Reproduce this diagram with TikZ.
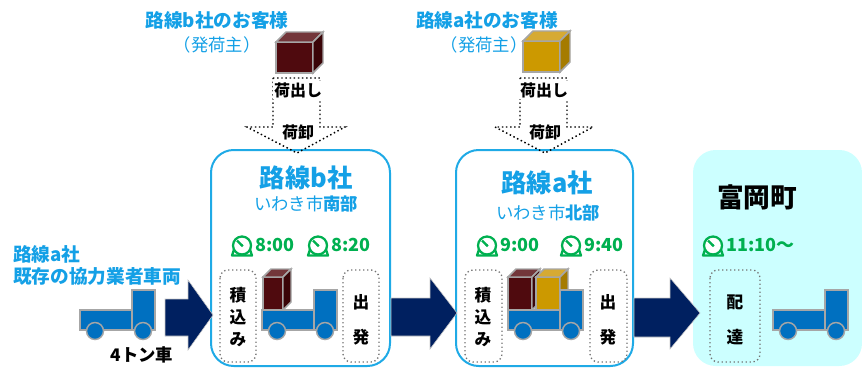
\documentclass[tikz,border=0pt]{standalone}
\usepackage{fontspec}
\setmainfont{Noto Sans CJK JP}
\definecolor{skyblue}{HTML}{14A0E6}
\definecolor{framecol}{HTML}{1FAAE6}
\definecolor{navy}{HTML}{002060}
\definecolor{clockgreen}{HTML}{00B050}
\definecolor{truckblue}{HTML}{0070C0}
\definecolor{rimgray}{HTML}{A6A6A6}
\definecolor{townbg}{HTML}{CCFFFF}
\definecolor{maroonF}{HTML}{4F0A0E}
\definecolor{maroonT}{HTML}{73363A}
\definecolor{maroonS}{HTML}{3A0508}
\definecolor{goldF}{HTML}{CC9900}
\definecolor{goldT}{HTML}{D6AA33}
\definecolor{goldS}{HTML}{A57B00}

% cube: x, y (front top-left), width, height, depth, front, top, side
\newcommand\crate[8]{%
  \draw[cratepen, fill=#6] (#1,#2) rectangle ++(#3,#4);
  \draw[cratepen, fill=#7] (#1,#2) -- ++(#5,-#5) -- ++(#3,0) -- ++(-#5,#5) -- cycle;
  \draw[cratepen, fill=#8] (#1+#3,#2) -- ++(#5,-#5) -- ++(0,#4) -- ++(-#5,#5) -- cycle;
}
% truck: x (left), y (cab top)
\newcommand\lorry[2]{%
  \begin{scope}[shift={(#1,#2)}]
    \draw[truckpen] (0,20) rectangle (52,40);
    \draw[truckpen] (52,0) rectangle (75,40);
    \draw[truckpen] (15,41) circle (8.5);
    \draw[truckpen] (63,41) circle (8.5);
  \end{scope}
}
% alarm-clock icon centred at x, y
\newcommand\clockicon[2]{%
  \begin{scope}[shift={(#1,#2)}]
    \draw[clockpen, line join=round] (-7.5,2) -- (-10,9.5) -- (10,9.5) -- (7.5,2);
    \draw[clockpen, fill=white] (0,-0.5) circle (9);
    \draw[clockpen] (0,-0.5) -- (-5,-5.5);
    \fill[clockgreen] (0,-0.5) circle (1.6);
  \end{scope}
}

\begin{document}
\begin{tikzpicture}[x=0.75pt, y=-0.75pt,
  cratepen/.style={draw=rimgray, line width=1.1pt},
  truckpen/.style={draw=rimgray, line width=1.1pt, fill=truckblue},
  clockpen/.style={draw=clockgreen, line width=1.7pt},
  station/.style={draw=framecol, line width=1.5pt, rounded corners=17pt},
  dotbox/.style={draw=black!55, dotted, line width=1pt, rounded corners=6pt},
  dotarrow/.style={draw=black, dotted, line width=1.1pt},
  navyarrow/.style={fill=navy, draw=rimgray!60, line width=0.4pt},
  bluehead/.style={text=skyblue, font=\bfseries\fontsize{14}{16}\selectfont},
  bluesub/.style={text=skyblue, font=\fontsize{13}{15}\selectfont},
  title/.style={text=skyblue, font=\bfseries\fontsize{19}{20}\selectfont},
  subtitle/.style={text=skyblue, font=\fontsize{13}{15}\selectfont},
  timetext/.style={text=clockgreen, font=\bfseries\fontsize{13.5}{15}\selectfont, anchor=west},
  blacklabel/.style={text=black, font=\bfseries\fontsize{12}{14}\selectfont},
  vlabel/.style={text=black, font=\bfseries\fontsize{12.5}{16.5}\selectfont, align=center},
  inner sep=0pt]
\useasboundingbox (0,0) rectangle (862,367);

% ---- stations and town background ----
\draw[station] (211,150) rectangle (390,366);
\draw[station] (456,150) rectangle (633,366);
\fill[townbg, rounded corners=17pt] (693,150) rectangle (862,366);

% ---- shipper boxes ----
\crate{276}{42}{37}{31}{10}{maroonF}{maroonT}{maroonS}
\crate{523}{41}{37}{31}{10}{goldF}{goldT}{goldS}

\node[bluehead] (custB) at (217,20) {路線b社のお客様};
\node[bluesub] (shipB) at (217,45) {（発荷主）};
\node[bluehead] (custA) at (487,20) {路線a社のお客様};
\node[bluesub] (shipA) at (484,45) {（発荷主）};

% ---- dotted pick-up arrows ----
\draw[dotarrow] (273,78) -- (320,78) -- (320,127) -- (345,127) -- (297,153) -- (247,127) -- (273,127) -- cycle;
\draw[dotarrow] (520,78) -- (567,78) -- (567,127) -- (593,127) -- (545,153) -- (495,127) -- (520,127) -- cycle;
\node[blacklabel, fill=white, inner sep=1pt] (outB) at (298,90) {荷出し};
\node[blacklabel] (dropB) at (298,132) {荷卸};
\node[blacklabel, fill=white, inner sep=1pt] (outA) at (544,90) {荷出し};
\node[blacklabel] (dropA) at (545,132) {荷卸};

% ---- station titles ----
\node[title] (stB) at (306,178) {路線b社};
\node[subtitle] (areaB) at (306,204) {いわき市{\bfseries 南部}};
\node[title] (stA) at (547,183) {路線a社};
\node[subtitle] (areaA) at (548,213) {いわき市{\bfseries 北部}};
\node[text=black, font=\bfseries\fontsize{20}{22}\selectfont] (town) at (757,197) {富岡町};

% ---- times ----
\clockicon{242}{246}
\node[timetext] (tB1) at (255,245) {8:00};
\clockicon{318}{246}
\node[timetext] (tB2) at (331,245) {8:20};
\clockicon{487}{246}
\node[timetext] (tA1) at (500,245) {9:00};
\clockicon{571}{246}
\node[timetext] (tA2) at (584,245) {9:40};
\clockicon{713}{246}
\node[timetext] (tT) at (726,245) {11:10〜};

% ---- dotted step boxes ----
\draw[dotbox] (220,270) rectangle (256,362);
\node[vlabel] (loadB) at (238,317) {積\\込\\み};
\draw[dotbox] (343,270) rectangle (379,362);
\node[vlabel] (leaveB) at (361,320) {出\\[10pt]発};
\draw[dotbox] (465,270) rectangle (502,362);
\node[vlabel] (loadA) at (483,317) {積\\込\\み};
\draw[dotbox] (590,270) rectangle (627,362);
\node[vlabel] (leaveA) at (608,320) {出\\[10pt]発};
\draw[dotbox] (710,270) rectangle (760,362);
\node[vlabel] (deliv) at (735,320) {配\\[10pt]達};

% ---- trucks and loads ----
\lorry{80}{290}
\crate{263}{277}{20}{33}{8}{maroonF}{maroonT}{maroonS}
\lorry{262}{290}
\crate{508}{277}{24}{33}{8}{maroonF}{maroonT}{maroonS}
\crate{536}{277}{24}{33}{8}{goldF}{goldT}{goldS}
\lorry{508}{290}
\lorry{773}{290}

\node[bluehead, anchor=west] (lineA) at (13,254) {路線a社};
\node[bluehead, anchor=west] (partner) at (13,276) {既存の協力業者車両};
\node[blacklabel, font=\bfseries\fontsize{13}{15}\selectfont] (ton) at (142,355) {4トン車};

% ---- flow arrows ----
\draw[navyarrow] (165,299) -- (188,299) -- (188,280) -- (213,315) -- (188,350) -- (188,336) -- (165,336) -- cycle;
\draw[navyarrow] (391,298) -- (430,298) -- (430,278) -- (457,313) -- (430,349) -- (430,336) -- (391,336) -- cycle;
\draw[navyarrow] (634,298) -- (670,298) -- (670,278) -- (700,313) -- (670,349) -- (670,337) -- (634,337) -- cycle;
\end{tikzpicture}
\end{document}
